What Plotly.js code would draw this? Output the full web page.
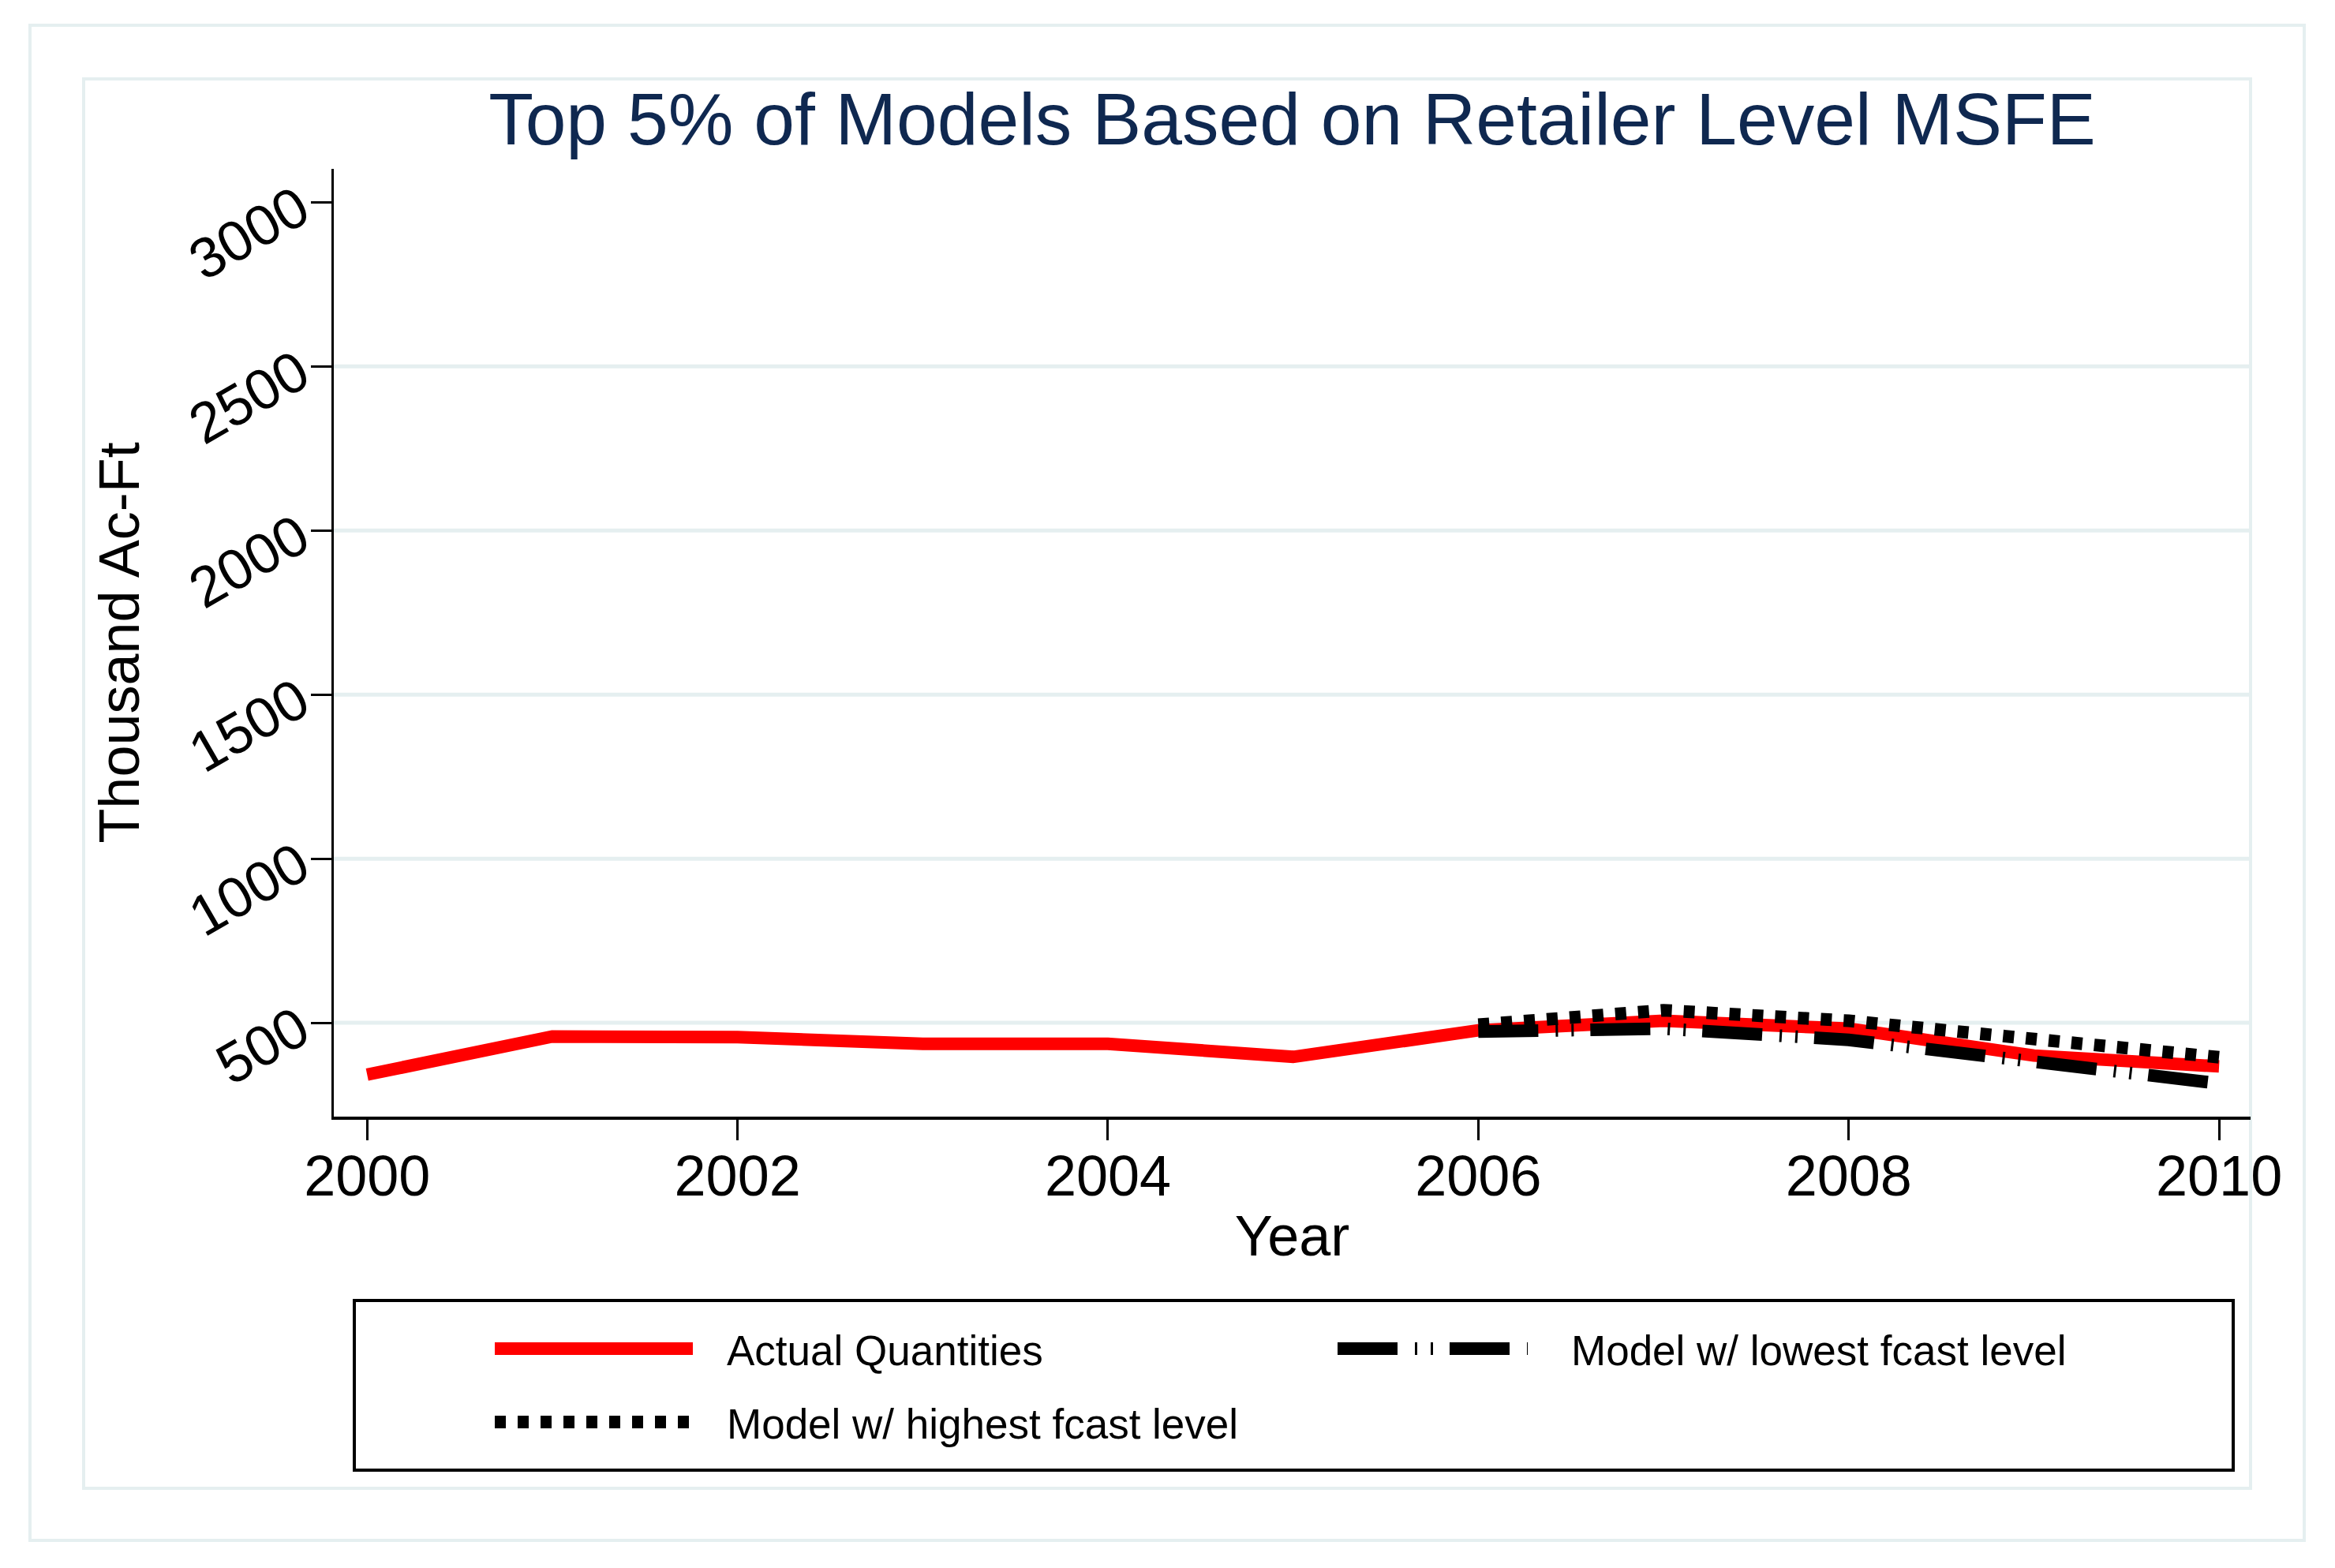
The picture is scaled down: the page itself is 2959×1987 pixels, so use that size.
<!DOCTYPE html>
<html>
<head>
<meta charset="utf-8">
<script src="https://cdn.plot.ly/plotly-3.0.1.min.js"></script>
<style>html,body{margin:0;padding:0;background:#fff;}#chart{width:2959px;height:1987px;}</style>
</head>
<body>
<div id="chart"></div>
<script>
// ---- data ----
const years = [2000, 2001, 2002, 2003, 2004, 2005, 2006, 2007, 2008, 2009, 2010];
const actualQuantities = [342, 458, 456, 436, 436, 396, 477, 506, 482, 400, 367];
const fcastYears = [2006, 2007, 2008, 2009, 2010];
const lowestFcast = [473, 482, 448, 384, 315];
const highestFcast = [494, 538, 506, 455, 395];
const xTickVals = [2000, 2002, 2004, 2006, 2008, 2010];
const yTickVals = [500, 1000, 1500, 2000, 2500, 3000];
const gridVals = [500, 1000, 1500, 2000, 2500];
const seriesNames = ["Actual Quantities", "Model w/ lowest fcast level", "Model w/ highest fcast level"];
const titleText = "Top 5% of Models Based on Retailer Level MSFE";

// ---- layout geometry (pixels) ----
const W = 2959, H = 1987;
const L = 423, R = 2852, T = 214, B = 1415;
const pw = R - L, ph = B - T;
const px = v => (v - L) / pw;
const py = v => (B - v) / ph;
const FONT = "Liberation Sans, Arial, Helvetica, sans-serif";
const LIGHT = "#e5eff0";
const RED = "#ff0000";
const DASH_LOW = "76px,22px,3px,17px,3px,21px";
const DASH_HIGH = "14px,15px";
const LW = 16;

const traces = [
  {x: years, y: actualQuantities, name: seriesNames[0], type: "scatter", mode: "lines",
   line: {color: RED, width: LW}},
  {x: fcastYears, y: lowestFcast, name: seriesNames[1], type: "scatter", mode: "lines",
   line: {color: "#000000", width: LW, dash: DASH_LOW}},
  {x: fcastYears, y: highestFcast, name: seriesNames[2], type: "scatter", mode: "lines",
   line: {color: "#000000", width: LW, dash: DASH_HIGH}}
];

const shapes = [];
// outer and inner frames
shapes.push({type: "rect", xref: "paper", yref: "paper", x0: px(38), x1: px(2920), y0: py(32), y1: py(1952),
  line: {color: LIGHT, width: 4}, layer: "below"});
shapes.push({type: "rect", xref: "paper", yref: "paper", x0: px(106), x1: px(2852), y0: py(100), y1: py(1886),
  line: {color: LIGHT, width: 4}, layer: "below"});
// horizontal grid lines
gridVals.forEach(g => shapes.push({type: "line", xref: "paper", yref: "y", x0: 0, x1: 1, y0: g, y1: g,
  line: {color: LIGHT, width: 5}, layer: "below"}));
// legend box
shapes.push({type: "rect", xref: "paper", yref: "paper", x0: px(449), x1: px(2830), y0: py(1648), y1: py(1863),
  line: {color: "#000000", width: 4}, fillcolor: "rgba(255,255,255,0)"});
// legend samples
const legendRows = [
  {x0: 627, x1: 878, y: 1709, color: RED, dash: "solid", tx: 919, text: seriesNames[0]},
  {x0: 1695, x1: 1936, y: 1709, color: "#000000", dash: DASH_LOW, tx: 1989, text: seriesNames[1]},
  {x0: 627, x1: 876, y: 1802, color: "#000000", dash: DASH_HIGH, tx: 919, text: seriesNames[2]}
];
const annotations = [];
legendRows.forEach(r => {
  shapes.push({type: "line", xref: "paper", yref: "paper", x0: px(r.x0), x1: px(r.x1), y0: py(r.y), y1: py(r.y),
    line: {color: r.color, width: LW, dash: r.dash}});
  annotations.push({xref: "paper", yref: "paper", x: px(r.tx), y: py(r.y + 2), xanchor: "left", yanchor: "middle",
    text: r.text, showarrow: false, font: {family: FONT, size: 53, color: "#000000"}});
});

const layout = {
  width: W, height: H,
  margin: {l: L, r: W - R, t: T, b: H - B, pad: 0},
  paper_bgcolor: "#ffffff", plot_bgcolor: "rgba(0,0,0,0)",
  showlegend: false,
  font: {family: FONT, color: "#000000"},
  title: {text: titleText, font: {family: FONT, size: 93, color: "#0f2850"},
    xref: "paper", x: 0.5, xanchor: "center", yref: "container", y: 1 - 150 / H, yanchor: "middle"},
  xaxis: {
    range: [1999.82, 2010.17], tickvals: xTickVals, ticktext: xTickVals.map(String),
    showgrid: false, zeroline: false, showline: true, linecolor: "#000000", linewidth: 3.5,
    ticks: "outside", ticklen: 26, tickwidth: 3, tickcolor: "#000000", ticklabelstandoff: -16,
    tickfont: {family: FONT, size: 72, color: "#000000"},
    title: {text: "Year", font: {family: FONT, size: 72, color: "#000000"}, standoff: 12}
  },
  yaxis: {
    range: [214, 3102], tickvals: yTickVals, ticktext: yTickVals.map(String),
    showgrid: false, zeroline: false, showline: true, linecolor: "#000000", linewidth: 3.5,
    ticks: "outside", ticklen: 26, tickwidth: 3, tickcolor: "#000000", tickangle: -30,
    tickfont: {family: FONT, size: 72, color: "#000000"},
    title: {text: "Thousand Ac-Ft", font: {family: FONT, size: 72, color: "#000000"}, standoff: 26}
  },
  shapes: shapes,
  annotations: annotations
};

Plotly.newPlot("chart", traces, layout, {staticPlot: true, displayModeBar: false});
</script>
</body>
</html>
